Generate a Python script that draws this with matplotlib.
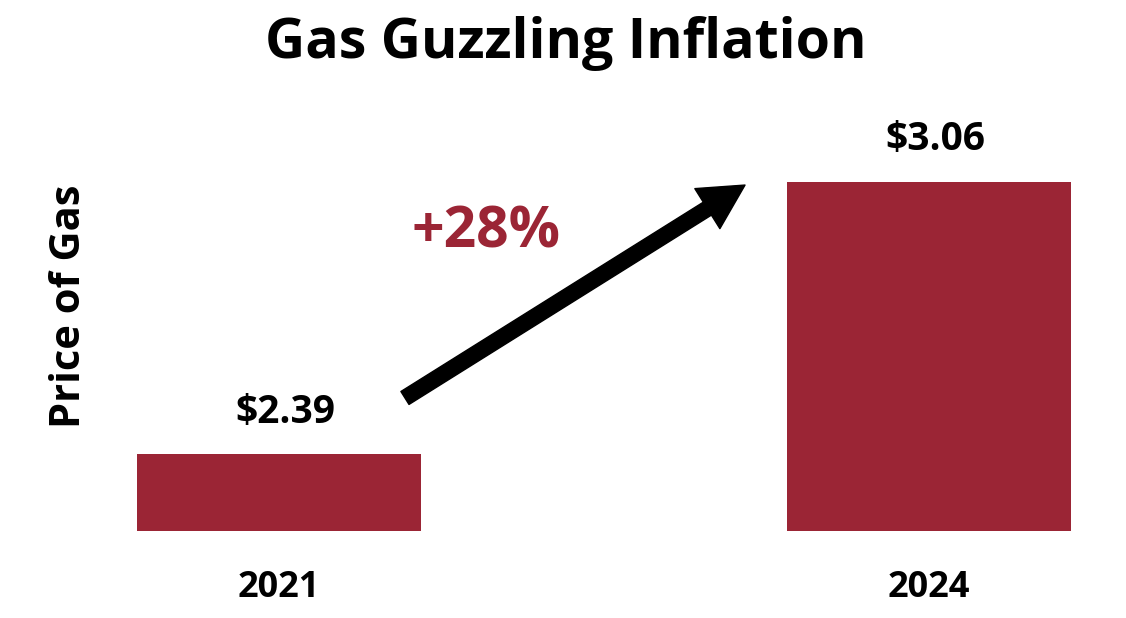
import matplotlib.pyplot as plt

years = ["2021", "2024"]
prices = [2.39, 3.06]
price_labels = ["$2.39", "$3.06"]
change_label = "+28%"

red = "#9B2535"
plt.rcParams['font.family'] = ['Open Sans', 'DejaVu Sans']
plt.rcParams['font.weight'] = 'bold'

fig = plt.figure(figsize=(11.26, 6.18), dpi=100)
ax = fig.add_axes([0.0746, 0.1408, 0.9236, 0.7227])

x = [0, 1]
ax.bar(x, prices, width=0.437, color=red, bottom=0)
ax.set_xlim(-0.3, 1.3)
ax.set_ylim(2.2, 3.3)

for xi, p, lab in zip(x, prices, price_labels):
    ax.text(xi + 0.01, p + 0.055, lab, ha='center', va='bottom', fontsize=28, fontweight='bold')

ax.set_xticks(x)
ax.set_xticklabels(years, fontsize=26, fontweight='bold')
ax.tick_params(axis='x', length=0, pad=28)
ax.set_yticks([])
for s in ax.spines.values():
    s.set_visible(False)

ax.annotate("", xy=(0.717, 3.052), xytext=(0.1938, 2.5276),
            arrowprops=dict(facecolor='black', edgecolor='black', width=11,
                            headwidth=34, headlength=32, shrink=0))
ax.text(0.318, 2.934, change_label, ha='center', va='center', fontsize=41,
        fontweight='bold', color=red)

fig.text(0.062, 0.505, "Price of Gas", rotation=90, ha='center', va='center',
         fontsize=30, fontweight='bold')
fig.text(0.502, 0.93, "Gas Guzzling Inflation", ha='center', va='center',
         fontsize=40, fontweight='bold')

fig.savefig("out.png", dpi=100)
